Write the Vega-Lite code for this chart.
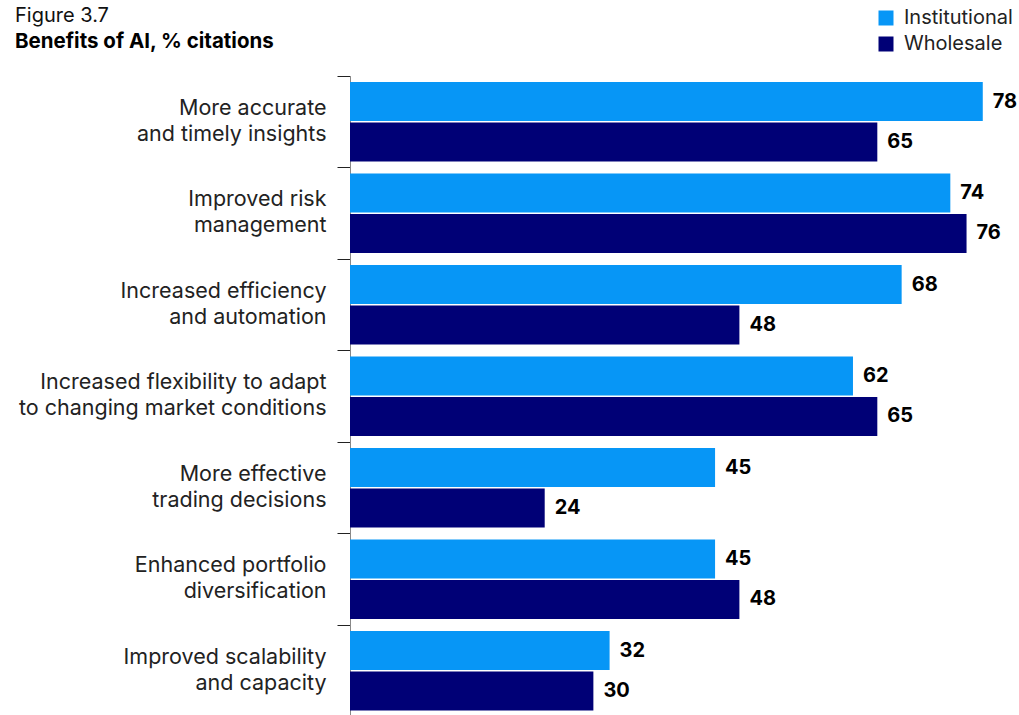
{
  "$schema": "https://vega.github.io/schema/vega-lite/v6.json",
  "autosize": {"type": "none"},
  "width": 649,
  "height": 640.5,
  "padding": {"left": 350, "top": 76, "right": 20, "bottom": 0},
  "background": "white",
  "title": {
    "text": "Figure 3.7",
    "subtitle": "Benefits of AI, % citations",
    "anchor": "start",
    "frame": "group",
    "dx": -335,
    "dy": 44,
    "offset": 0,
    "font": "Inter",
    "fontSize": 20,
    "fontWeight": "normal",
    "color": "#111111",
    "subtitleFont": "Inter",
    "subtitleFontSize": 20.5,
    "subtitleFontWeight": "bold",
    "subtitleColor": "#000000",
    "subtitlePadding": 6
  },
  "config": {
    "view": {"stroke": null},
    "font": "Inter"
  },
  "data": {
    "values": [
      {"benefit": "More accurate|and timely insights", "segment": "Institutional", "pct": 78},
      {"benefit": "More accurate|and timely insights", "segment": "Wholesale", "pct": 65},
      {"benefit": "Improved risk|management", "segment": "Institutional", "pct": 74},
      {"benefit": "Improved risk|management", "segment": "Wholesale", "pct": 76},
      {"benefit": "Increased efficiency|and automation", "segment": "Institutional", "pct": 68},
      {"benefit": "Increased efficiency|and automation", "segment": "Wholesale", "pct": 48},
      {"benefit": "Increased flexibility to adapt|to changing market conditions", "segment": "Institutional", "pct": 62},
      {"benefit": "Increased flexibility to adapt|to changing market conditions", "segment": "Wholesale", "pct": 65},
      {"benefit": "More effective|trading decisions", "segment": "Institutional", "pct": 45},
      {"benefit": "More effective|trading decisions", "segment": "Wholesale", "pct": 24},
      {"benefit": "Enhanced portfolio|diversification", "segment": "Institutional", "pct": 45},
      {"benefit": "Enhanced portfolio|diversification", "segment": "Wholesale", "pct": 48},
      {"benefit": "Improved scalability|and capacity", "segment": "Institutional", "pct": 32},
      {"benefit": "Improved scalability|and capacity", "segment": "Wholesale", "pct": 30}
    ]
  },
  "encoding": {
    "y": {
      "field": "benefit",
      "type": "nominal",
      "sort": null,
      "scale": {"paddingInner": 0, "paddingOuter": 0},
      "axis": {
        "title": null,
        "bandPosition": 0,
        "tickSize": 13,
        "tickColor": "#222222",
        "tickWidth": 1,
        "domainColor": "#888888",
        "domainWidth": 1,
        "labelPadding": 11,
        "labelFont": "Inter",
        "labelFontSize": 21.5,
        "labelColor": "#222222",
        "labelLineHeight": 26,
        "labelOffset": -13,
        "labelExpr": "split(datum.value, '|')",
        "labelLimit": 400
      }
    },
    "yOffset": {
      "field": "segment",
      "type": "nominal",
      "scale": {"paddingInner": 0.037, "paddingOuter": 0.15}
    },
    "x": {
      "field": "pct",
      "type": "quantitative",
      "scale": {"domain": [0, 80]},
      "axis": null
    }
  },
  "layer": [
    {
      "mark": {"type": "bar"},
      "encoding": {
        "color": {
          "field": "segment",
          "type": "nominal",
          "scale": {"domain": ["Institutional", "Wholesale"], "range": ["#0796f6", "#000076"]},
          "legend": {
            "title": null,
            "orient": "none",
            "legendX": 526,
            "legendY": -68,
            "symbolType": "square",
            "symbolSize": 225,
            "symbolStrokeWidth": 0,
            "symbolOpacity": 1,
            "labelFont": "Inter",
            "labelFontSize": 20,
            "labelColor": "#222222",
            "labelOffset": 8,
            "rowPadding": 6
          }
        }
      }
    },
    {
      "mark": {"type": "text", "align": "left", "baseline": "middle", "dx": 10, "fontSize": 20, "fontWeight": "bold", "font": "Inter", "color": "#000000"},
      "encoding": {
        "text": {"field": "pct", "type": "quantitative"}
      }
    }
  ]
}
